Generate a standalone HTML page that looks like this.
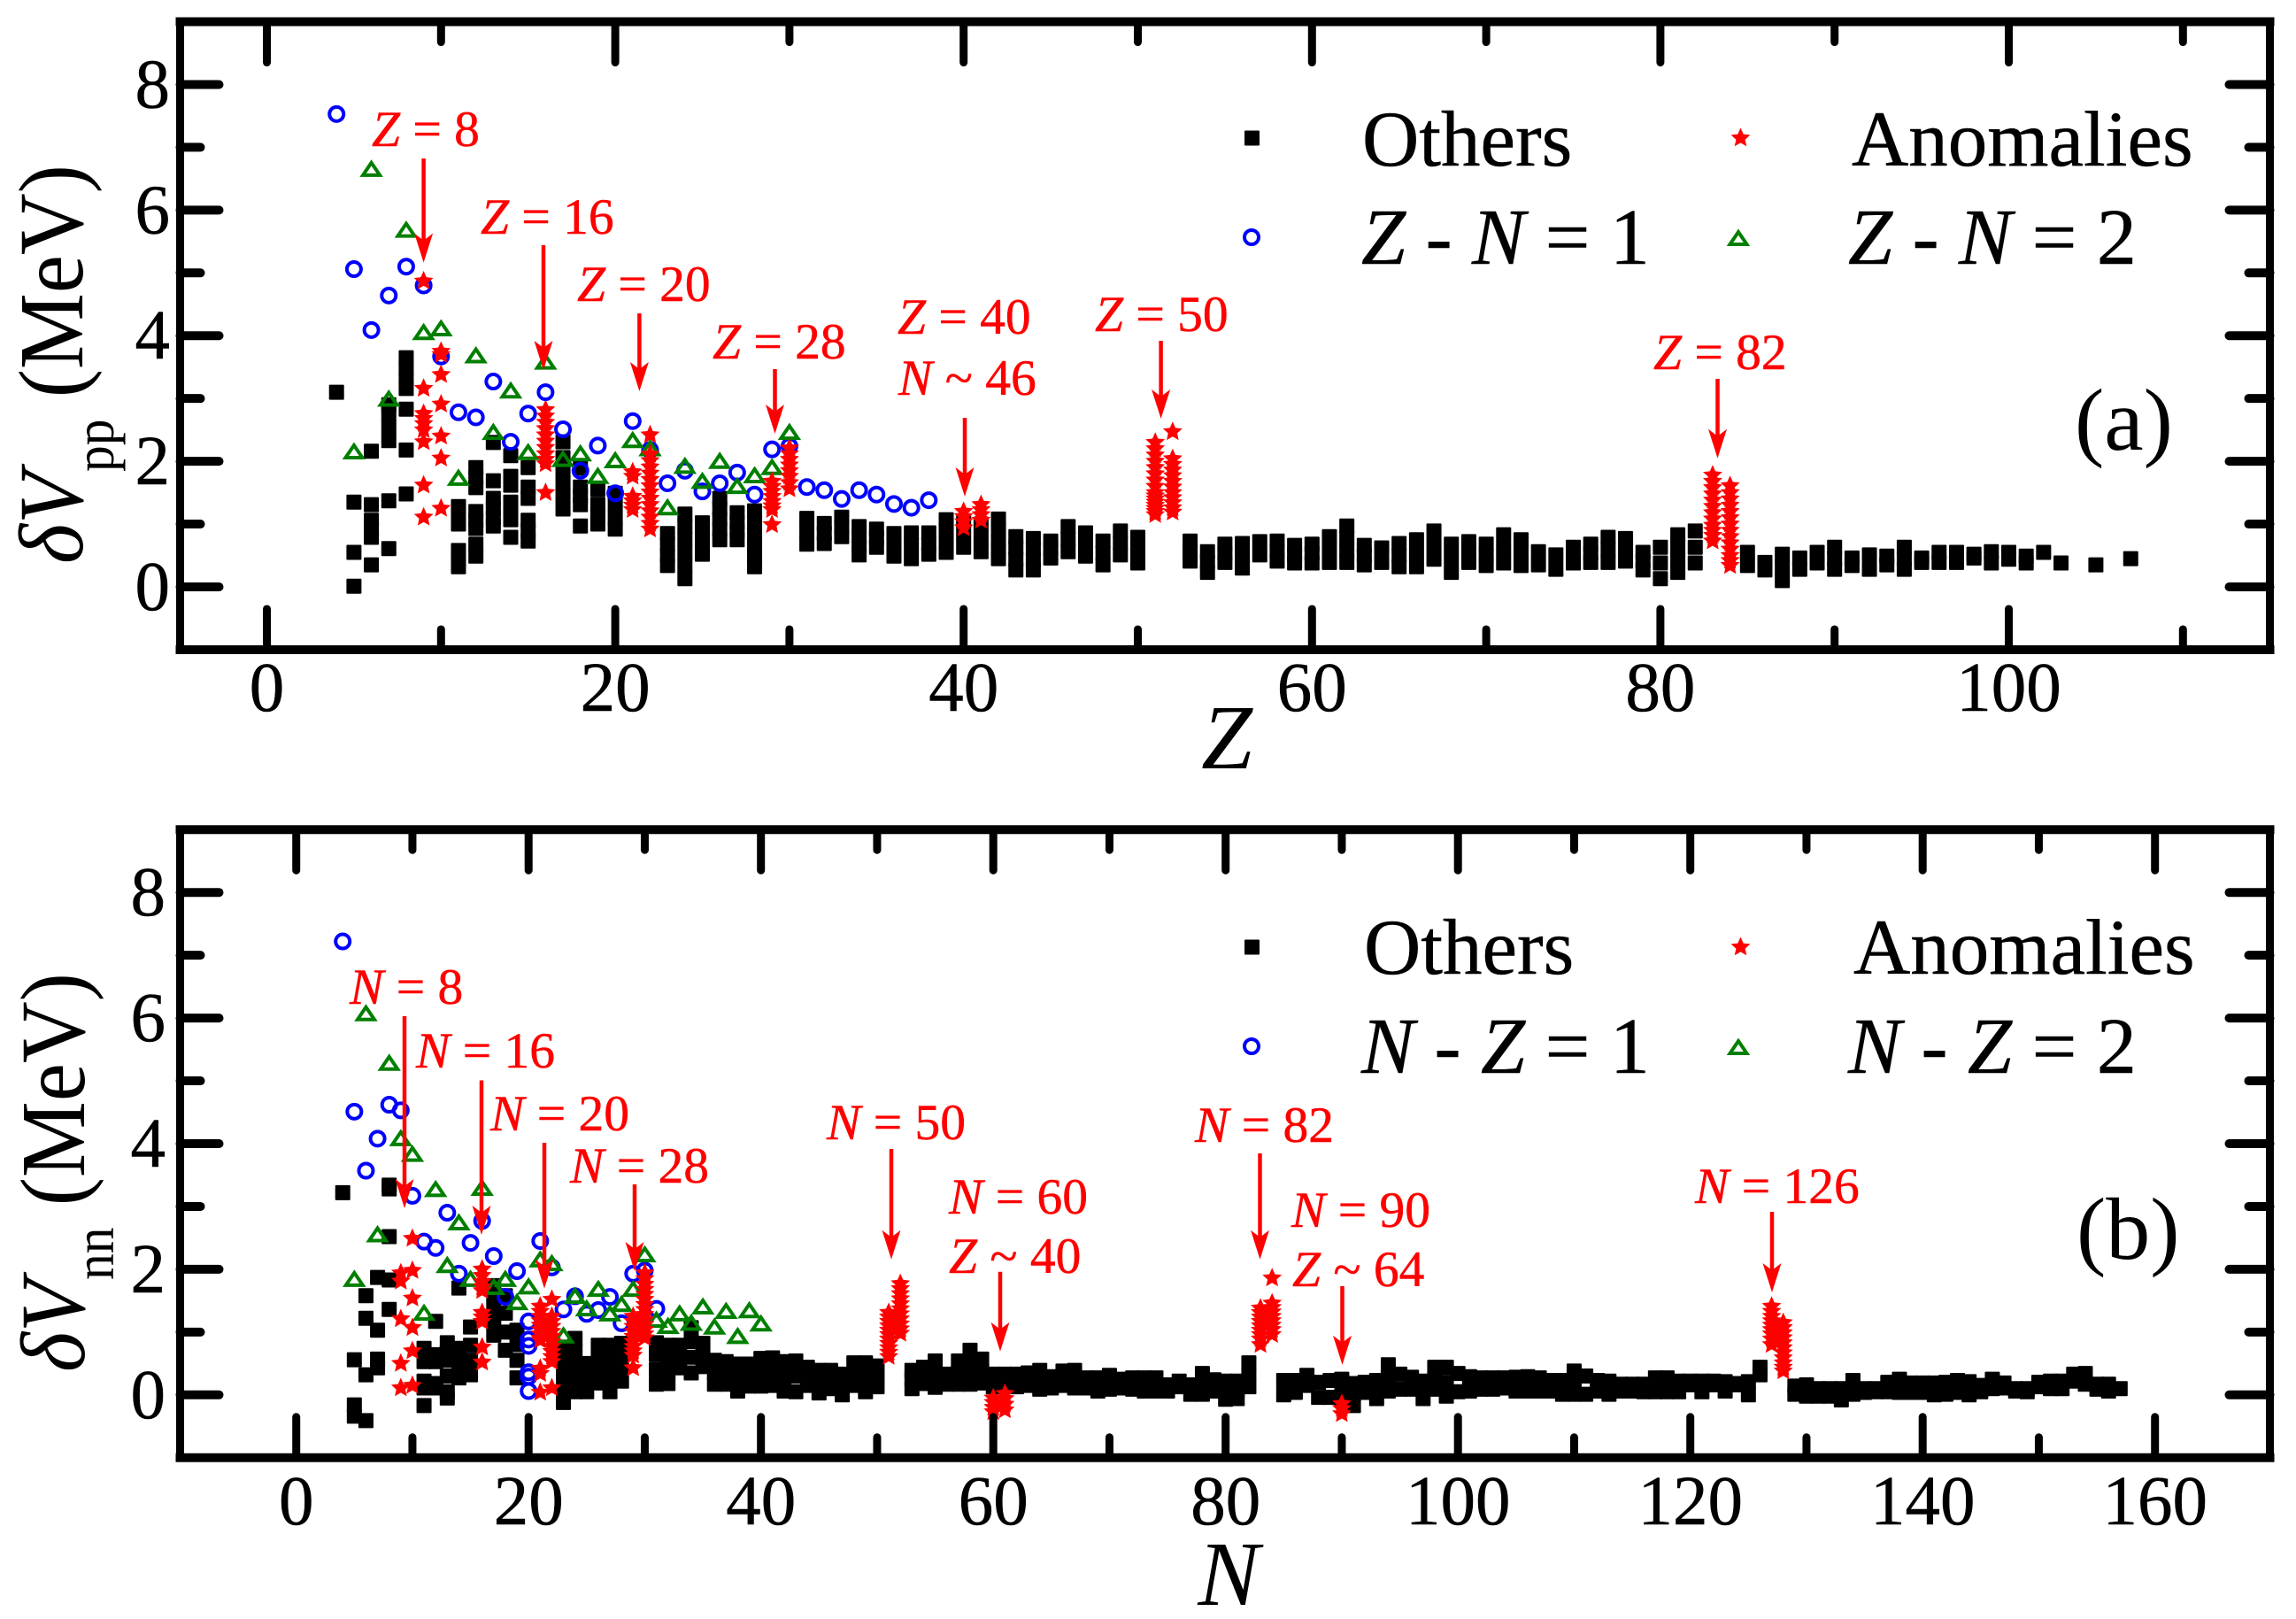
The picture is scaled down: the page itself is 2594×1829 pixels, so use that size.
<!DOCTYPE html>
<html lang="en">
<head>
<meta charset="utf-8">
<title>Proton and neutron interaction differences</title>
<style>
html,body{margin:0;padding:0;background:#fff;}
svg{display:block;}
text{font-family:"Liberation Serif","Times New Roman",serif;}
.i{font-style:italic;}
.ann{fill:#f00;stroke:#f00;stroke-width:.5px;font-size:57.5px;}
.leg{fill:#000;stroke:#000;stroke-width:.5px;font-size:89px;}
.leg2{fill:#000;stroke:#000;stroke-width:.5px;font-size:90px;}
.tick{fill:#000;stroke:#000;stroke-width:.5px;font-size:79px;}
</style>
</head>
<body>
<svg id="chart" xmlns="http://www.w3.org/2000/svg" width="2594" height="1829" viewBox="0 0 2594 1829">
<rect x="0" y="0" width="2594" height="1829" fill="#fff"/>
<g id="panelA"></g>
<g id="panelB"></g>

<g>
<text class="i" x="1386" y="868" font-size="104" text-anchor="middle">Z</text>
<text transform="translate(93,637) rotate(-90) scale(0.93,1)" font-size="104"><tspan class="i">δV</tspan><tspan dy="35" font-size="64">pp</tspan><tspan dy="-35"> (MeV)</tspan></text>
<text x="2344" y="508" font-size="100">(a)</text>
<text class="leg" x="1539" y="187">Others</text>
<text class="leg" x="2092" y="187">Anomalies</text>
<text class="leg2" x="1538" y="298"><tspan class="i">Z</tspan> - <tspan class="i">N</tspan> = 1</text>
<text class="leg2" x="2088" y="298"><tspan class="i">Z</tspan> - <tspan class="i">N</tspan> = 2</text>
<text class="ann" x="420" y="165"><tspan class="i">Z</tspan> = 8</text>
<text class="ann" x="543" y="264"><tspan class="i">Z</tspan> = 16</text>
<text class="ann" x="652" y="340"><tspan class="i">Z</tspan> = 20</text>
<text class="ann" x="805" y="405"><tspan class="i">Z</tspan> = 28</text>
<text class="ann" x="1014" y="377"><tspan class="i">Z</tspan> = 40</text>
<text class="ann" x="1015" y="446"><tspan class="i">N</tspan> ~ 46</text>
<text class="ann" x="1237" y="374"><tspan class="i">Z</tspan> = 50</text>
<text class="ann" x="1868" y="417"><tspan class="i">Z</tspan> = 82</text>
</g>

<g>
<text class="i" x="1388" y="1813" font-size="104" text-anchor="middle">N</text>
<text transform="translate(95,1550) rotate(-90) scale(0.93,1)" font-size="104"><tspan class="i">δV</tspan><tspan dy="33" font-size="64">nn</tspan><tspan dy="-33"> (MeV)</tspan></text>
<text x="2346" y="1422" font-size="100">(b)</text>
<text class="leg" x="1541" y="1100">Others</text>
<text class="leg" x="2094" y="1100">Anomalies</text>
<text class="leg2" x="1538" y="1212"><tspan class="i">N</tspan> - <tspan class="i">Z</tspan> = 1</text>
<text class="leg2" x="2088" y="1212"><tspan class="i">N</tspan> - <tspan class="i">Z</tspan> = 2</text>
<text class="ann" x="395" y="1134"><tspan class="i">N</tspan> = 8</text>
<text class="ann" x="470" y="1206"><tspan class="i">N</tspan> = 16</text>
<text class="ann" x="554" y="1277"><tspan class="i">N</tspan> = 20</text>
<text class="ann" x="644" y="1336"><tspan class="i">N</tspan> = 28</text>
<text class="ann" x="934" y="1287"><tspan class="i">N</tspan> = 50</text>
<text class="ann" x="1072" y="1371"><tspan class="i">N</tspan> = 60</text>
<text class="ann" x="1072" y="1438"><tspan class="i">Z</tspan> ~ 40</text>
<text class="ann" x="1350" y="1290"><tspan class="i">N</tspan> = 82</text>
<text class="ann" x="1459" y="1386"><tspan class="i">N</tspan> = 90</text>
<text class="ann" x="1460" y="1453"><tspan class="i">Z</tspan> ~ 64</text>
<text class="ann" x="1915" y="1359"><tspan class="i">N</tspan> = 126</text>
</g>
<g id="arrows"></g>
</svg>

<script>
/* ---------- Panel (a) data ---------- */
const xTicksA = [0, 20, 40, 60, 80, 100];
const xMinorA = [10, 30, 50, 70, 90, 110];
const xTicksB = [0, 20, 40, 60, 80, 100, 120, 140, 160];
const xMinorB = [10, 30, 50, 70, 90, 110, 130, 150];
const yTicks = [0, 2, 4, 6, 8];
const yMinor = [1, 3, 5, 7];

const othersAZ = [4,5,6,7,8,11,12,13,14,15,17,18,19,20,23,24,25,26,27,28,31,32,33,34,35,36,37,38,39,40,41,42,43,44,45,46,47,48,49,50,53,54,55,56,57,58,59,60,61,62,63,64,65,66,67,68,69,70,71,72,73,74,75,76,77,78,79,80,81,82,85,86,87,88,89,90,91,92,93,94,95,96,97,98,99,100,101,102,103,105,107];
const othersAValues = [
[3.10],[1.35,.55,.01],[2.16,1.31,1.06,.92,.79,.35],[2.90,2.76,2.55,2.33,1.37,.61],[3.65,3.48,3.32,3.16,2.83,2.18,1.48],
[1.28,1.14,1.0,.58,.45,.32],[1.90,1.74,1.58,1.20,1.06,.93,.68,.49],[2.30,1.69,1.41,1.25,1.10,.97],[2.09,1.76,1.62,1.35,1.21,1.07,.79],[1.90,1.59,1.41,1.06,.90,.73],
[2.31,2.06,1.85,1.65,1.45,1.24],[1.89,1.59,1.45,1.31,.97],[1.55,1.31,1.15,1.0],[1.49,1.30,1.10,.92],
[.85,.68,.50,.34],[1.16,.96,.76,.55,.34,.13],[1.02,.85,.68,.52],[1.41,1.25,1.08,.91,.75],[1.18,1.03,.89,.75],[1.21,1.02,.83,.65,.48,.32],
[1.09,.88,.68],[1.01,.85,.69],[1.11,.95,.80],[.96,.80,.65,.51],[.92,.78,.63],[.85,.67,.49],[.86,.66,.45],[.86,.68,.52],[1.07,.88,.70,.55],[1.05,.84,.63],[1.0,.78,.56],[1.08,.90,.72,.58,.45],[.80,.62,.44,.27],[.77,.60,.43,.27],[.73,.60,.46],[.96,.76,.56],[.86,.68,.49],[.73,.54,.35],[.89,.70,.51],[.79,.58,.38],
[.73,.57,.41],[.56,.40,.23],[.68,.53,.39],[.69,.50,.30],[.72,.51],[.73,.57,.41],[.66,.52,.38],[.68,.53,.38],[.80,.60,.39],[.97,.78,.58,.39],[.66,.50,.35],[.62,.39],[.69,.50,.32],[.75,.53,.32],[.89,.66,.44],[.68,.46,.23],[.72,.55,.39],[.68,.51,.34],[.83,.60,.38],[.75,.54,.34],[.56,.35],[.51,.28],[.63,.50,.38],[.68,.53,.39],[.79,.59,.39],[.77,.59,.41],[.55,.41,.27],[.63,.38,.13],[.83,.63,.43,.23],[.89,.63,.38],
[.55,.34],[.39,.27],[.52,.31,.10],[.46,.28],[.55,.38],[.63,.45,.28],[.46,.34],[.51,.28],[.49,.35],[.63,.45,.28],[.46,.39],[.55,.39],[.55,.39],[.52,.46],[.56,.38],[.55,.44],[.49,.38],[.55],[.38],[.35],[.45]
];

const diff1AZ = [4,5,6,7,8,9,10,11,12,13,14,15,16,17,18,19,20,21,22,23,24,25,26,27,28,29,30,31,32,33,34,35,36,37,38];
const diff1AValues = [7.53,5.06,4.09,4.64,5.10,4.80,3.67,2.78,2.70,3.27,2.31,2.76,3.10,2.51,1.85,2.25,1.49,2.64,2.18,1.65,1.85,1.52,1.65,1.82,1.47,2.19,2.24,1.59,1.54,1.40,1.54,1.47,1.32,1.26,1.38];

const diff2AZ = [5,6,7,8,9,10,11,12,13,14,15,16,17,18,19,20,21,22,23,24,25,26,27,28,29,30];
const diff2AValues = [2.17,6.67,3.01,5.70,4.07,4.13,1.75,3.70,2.48,3.14,2.16,3.60,2.05,2.14,1.78,2.03,2.35,2.22,1.28,1.94,1.70,2.02,1.62,1.79,1.92,2.48];

const anomalyAZ = [9,10,16,21,22,29,30,40,41,51,52,83,84];
const anomalyAValues = [
[4.87,3.16,2.76,2.68,2.6,2.5,2.31,1.62,1.11],
[3.75,3.7,3.38,2.91,2.40,2.05,1.25],
[2.82,2.72,2.62,2.52,2.42,2.32,2.22,2.12,2.03,1.96,1.50],
[1.83,1.76,1.44,1.37,1.30,1.23],
[2.42,2.11,2.01,1.91,1.81,1.71,1.61,1.51,1.41,1.31,1.21,1.11,1.01,.92],
[1.68,1.60,1.52,1.44,1.36,1.29,1.23,.99],
[2.21,2.12,2.03,1.94,1.85,1.76,1.66,1.56],
[1.2,1.12,1.04,.94],
[1.31,1.23,1.15,1.06],
[2.30,2.2,2.1,2.0,1.9,1.8,1.7,1.6,1.5,1.45,1.4,1.35,1.3,1.25,1.2,1.15],
[2.47,2.04,1.95,1.86,1.77,1.68,1.59,1.5,1.42,1.34,1.26,1.19],
[1.78,1.68,1.58,1.48,1.38,1.28,1.18,1.08,.98,.9,.82,.73],
[1.61,1.5,1.4,1.3,1.2,1.1,1.0,.9,.8,.7,.6,.5,.42,.34]
];

/* ---------- Panel (b) data ---------- */
const othersBN = [4,5,6,7,8,11,12,13,14,15,17,18,19,23,24,25,26,27,28,31,32,33,34,35,36,37,38,39,40,41,42,43,44,45,46,47,48,49,50,53,54,55,56,57,58,59,60,61,62,63,64,65,66,67,68,69,70,71,72,73,74,75,76,77,78,79,80,81,82,85,86,87,88,89,90,91,92,93,94,95,96,97,98,99,100,101,102,103,104,105,106,107,108,109,110,111,112,113,114,115,116,117,118,119,120,121,122,123,124,125,126,129,130,131,132,133,134,135,136,137,138,139,140,141,142,143,144,145,146,147,148,149,150,151,152,153,154,155,156,157];
const othersBValues = [
[3.22],[.56,-.16,-.34],[1.58,1.22,.32,-.41],[1.87,1.03,.57,.43],[3.34,3.28,2.52,1.83,1.36],
[.74,.53,.22,.11,-.17],[1.17,.64,.53,.18,.11],[.83,.68,.55,.30,.05,-.05],[1.70,.74,.55,.40,.27],[1.08,.79,.55,.32],
[1.74,1.55,1.35,1.15,.95],[1.58,1.30,1.0,.71],[1.03,.8,.55,.27],
[.76,.55,.33,.10,-.12],[.90,.70,.48,.25,.05],[.50,.35,.20,.05],[.79,.60,.40,.19],[.79,.60,.40,.22,.05],[.82,.64,.42,.22],
[.83,.64,.40,.17],[.79,.60,.38,.18],[.79,.60,.43],[1.07,.85,.60,.35],[.82,.62,.45],[.55,.35,.17],[.53,.35,.17],[.49,.27,.06],[.49,.30,.14],[.58,.36,.14],[.59,.37,.15],[.53,.30,.06],[.54,.30,.05],[.44,.30,.15],[.39,.20,.03],[.39,.25,.10],[.33,.16,.0],[.51,.33,.15],[.51,.28,.05],[.46,.30,.13],
[.39,.25,.10],[.44,.30,.18],[.54,.33,.12],[.33,.17],[.54,.35,.17],[.71,.54,.36,.17],[.57,.38,.19],[.33,.13],[.33,.13],[.33,.13],[.35,.15],[.39,.24,.09],[.29,.11],[.38,.26,.15],[.39,.25,.11],[.27,.11],[.27,.06],[.31,.09],[.25,.11],[.27,.09],[.27,.06],[.27,.06],[.16,.06],[.22,.13],[.16,.01],[.34,.17,.01],[.24,.06],[.22,.07,-.07],[.22,.08,-.06],[.51,.32,.13],
[.23,.0],[.23,.04],[.31,.15],[.20,-.04],[.23,-.04],[.25,.10,-.05],[.18,.0,-.17],[.20,.04],[.23,.08,-.06],[.48,.27,.06],[.33,.09],[.28,.09],[.22,.08,-.06],[.44,.27,.09],[.44,.20,-.02],[.34,.05],[.29,.06],[.27,.09],[.27,.09],[.27,.11],[.28,.06],[.29,.06],[.27,.06],
[.23,.06],[.23,.01],[.38,.20,.01],[.30,.01],[.23,.06],[.22,.01],[.17,.06],[.17,.06],[.17,.05],[.27,.05],[.27,.05],[.22,.05],[.22,.16],[.22,.05],[.22,.16],[.21,.06],[.18,.16],[.21,.0],[.44,.32],
[.14,.01],[.16,-.02],[.10,-.02],[.10,-.02],[.10,-.08],[.23,.01],[.10,.04],[.10,.05],[.20,.05],[.25,.04],[.19,.04],[.19,.04],[.19,.0],[.20,.01],[.23,.04],[.21,.0],[.15,.05],[.25,.10],[.19,.11],[.10,.06],[.10,.05],[.20,.13],[.22,.10],[.22,.10],[.33,.22],[.34,.17],[.17,.09],[.17,.06],[.10]
];

const diff1BN = [4,5,6,7,8,9,10,11,12,13,14,15,16,17,18,19,20,20,20,20,20,20,21,22,23,24,25,26,27,28,29,30,31];
const diff1BValues = [7.22,4.51,3.57,4.08,4.62,4.53,3.17,2.44,2.34,2.90,1.93,2.42,2.77,2.21,1.56,1.97,1.17,.88,.78,.36,.29,.06,2.45,2.03,1.36,1.57,1.29,1.35,1.56,1.14,1.93,1.98,1.37];

const diff2BN = [5,6,7,8,9,10,11,12,13,14,15,16,17,18,19,20,21,22,23,24,25,26,27,28,29,30,31,32,33,34,35,36,37,38,39,40];
const diff2BValues = [1.86,6.09,2.57,5.30,4.10,3.85,1.32,3.29,2.08,2.76,1.86,3.31,1.73,1.86,1.49,1.74,2.17,2.11,.96,1.59,1.39,1.70,1.31,1.46,1.70,2.25,1.21,1.11,1.31,1.16,1.42,1.10,1.35,.95,1.36,1.15];

const anomalyBN = [9,10,16,21,22,29,30,51,52,60,61,83,84,90,127,128];
const anomalyBValues = [
[1.94,1.81,1.21,.50,.11],
[2.49,1.98,1.54,1.07,.70,.15],
[2.0,1.9,1.8,1.72,1.66,1.31,1.24,1.17,.76,.52],
[1.41,1.33,1.25,1.18,1.11,1.04,.97,.90,.87,.42,.34,.04],
[1.52,1.25,1.17,1.09,1.01,.93,.85,.77,.69,.61,.53,.11],
[1.25,1.17,1.09,1.01,.93,.85,.77,.70,.63,.43],
[1.94,1.85,1.76,1.68,1.6,1.52,1.44,1.36,1.28,1.2,1.12,1.04,.97,.91],
[1.31,1.24,1.17,1.10,1.03,.96,.89,.82,.75,.68,.61],
[1.77,1.69,1.61,1.53,1.45,1.37,1.29,1.21,1.13,1.05,.98],
[-.05,-.12,-.2,-.27],
[.02,-.06,-.15,-.24],
[1.38,1.31,1.24,1.17,1.10,1.03,.96,.89,.80],
[1.86,1.46,1.39,1.32,1.25,1.18,1.11,1.04,.96],
[-.14,-.22,-.30],
[1.41,1.33,1.25,1.18,1.11,1.04,.97,.89,.80],
[1.15,1.07,.99,.91,.83,.75,.67,.59,.51,.44,.38]
];

/* ---------- Axis functions ---------- */
function xAxisA(z){ return 301.5 + 19.68 * z; }
function xAxisB(n){ return 334.7 + 13.125 * n; }
function yAxisA(v){ return 663 - 70.94 * v; }
function yAxisB(v){ return 1575.8 - 70.95 * v; }

const NS = 'http://www.w3.org/2000/svg';
function mk(tag, parent){
  const el = document.createElementNS(NS, tag);
  parent.appendChild(el);
  return el;
}
function drawSquare(parent, cx, cy){
  const el = mk('rect', parent);
  
  
  el.setAttribute('x', cx - 8.5);
  el.setAttribute('y', cy - 8.5);
  el.setAttribute('width', 17);
  el.setAttribute('height', 17);
  el.setAttribute('rx', 1);
  el.setAttribute('fill', '#000');
}
function drawCircle(parent, cx, cy){
  const el = mk('circle', parent);
  
  
  el.setAttribute('cx', cx);
  el.setAttribute('cy', cy);
  el.setAttribute('r', 8);
  el.setAttribute('fill', 'none');
  el.setAttribute('stroke', '#0000ff');
  el.setAttribute('stroke-width', 4);
}
function drawTriangle(parent, cx, cy){
  const el = mk('polygon', parent);
  
  
  el.setAttribute('points', cx + ',' + (cy - 6) + ' ' + (cx + 9.5) + ',' + (cy + 8) + ' ' + (cx - 9.5) + ',' + (cy + 8));
  el.setAttribute('fill', 'none');
  el.setAttribute('stroke', '#007f00');
  el.setAttribute('stroke-width', 4);
}
function drawStar(parent, cx, cy){
  const el = mk('polygon', parent);
  
  
  const pts = [];
  for (let i = 0; i < 10; i++) {
    const r = i % 2 === 0 ? 11.5 : 5.4;
    const a = -Math.PI / 2 + i * Math.PI / 5;
    pts.push((cx + r * Math.cos(a)).toFixed(1) + ',' + (cy + r * Math.sin(a)).toFixed(1));
  }
  el.setAttribute('points', pts.join(' '));
  el.setAttribute('fill', '#ff0000');
}
function drawLine(parent, x1, y1, x2, y2, w, name, cap){
  const el = mk('line', parent);
  
  
  el.setAttribute('x1', x1);
  el.setAttribute('y1', y1);
  el.setAttribute('x2', x2);
  el.setAttribute('y2', y2);
  el.setAttribute('stroke', '#000');
  el.setAttribute('stroke-width', w);
  el.setAttribute('stroke-linecap', cap);
}
function drawTickLabel(parent, x, y, s, anchor){
  const el = mk('text', parent);
  
  
  el.setAttribute('class', 'tick');
  el.setAttribute('x', x);
  el.setAttribute('y', y);
  el.setAttribute('text-anchor', anchor);
  el.textContent = s;
}

function drawPanel(parent, xf, yf, cfg){
  const L = 203.5, R = 2564.5, T = yf(9), B = yf(-1);
  const series = mk('g', parent);
  
  

  cfg.othersX.forEach(function(x, i){
    cfg.othersV[i].forEach(function(v){ drawSquare(series, xf(x), yf(v)); });
  });
  cfg.d1X.forEach(function(x, i){ drawCircle(series, xf(x), yf(cfg.d1V[i])); });
  cfg.d2X.forEach(function(x, i){ drawTriangle(series, xf(x), yf(cfg.d2V[i])); });
  cfg.anX.forEach(function(x, i){
    cfg.anV[i].forEach(function(v){ drawStar(series, xf(x), yf(v)); });
  });

  /* frame */
  drawLine(parent, L, T, R, T, 10, 'frame-top', 'square');
  drawLine(parent, L, B, R, B, 10, 'frame-bottom', 'square');
  drawLine(parent, L, T, L, B, 9, 'frame-left', 'square');
  drawLine(parent, R, T, R, B, 9, 'frame-right', 'square');

  /* ticks */
  cfg.xMajor.forEach(function(t){
    drawLine(parent, xf(t), B, xf(t), B - 46, 9, 'x-tick-major', 'round');
    drawLine(parent, xf(t), T, xf(t), T + 46, 9, 'x-tick-major-top', 'round');
    drawTickLabel(parent, xf(t), cfg.xLabelY, String(t), 'middle');
  });
  cfg.xMinor.forEach(function(t){
    drawLine(parent, xf(t), B, xf(t), B - 23, 9, 'x-tick-minor', 'round');
    drawLine(parent, xf(t), T, xf(t), T + 23, 9, 'x-tick-minor-top', 'round');
  });
  yTicks.forEach(function(t){
    drawLine(parent, L, yf(t), L + 44, yf(t), 10, 'y-tick-major', 'round');
    drawLine(parent, R, yf(t), R - 46, yf(t), 10, 'y-tick-major-right', 'round');
    drawTickLabel(parent, cfg.yLabelX, yf(t) + 26, String(t), 'end');
  });
  yMinor.forEach(function(t){
    drawLine(parent, L, yf(t), L + 23, yf(t), 10, 'y-tick-minor', 'round');
    drawLine(parent, R, yf(t), R - 24, yf(t), 10, 'y-tick-minor-right', 'round');
  });

  /* legend markers */
  const lg = mk('g', parent);
  
  
  drawSquare(lg, 1414.5, cfg.legY1);
  drawStar(lg, 1966.5, cfg.legY1);
  drawCircle(lg, 1414, cfg.legY2);
  drawTriangle(lg, 1964, cfg.legY2);
}

drawPanel(document.getElementById('panelA'), xAxisA, yAxisA, {
  othersX: othersAZ, othersV: othersAValues, d1X: diff1AZ, d1V: diff1AValues,
  d2X: diff2AZ, d2V: diff2AValues, anX: anomalyAZ, anV: anomalyAValues,
  xMajor: xTicksA, xMinor: xMinorA, xLabelY: 803, yLabelX: 192, legY1: 156, legY2: 268
});
drawPanel(document.getElementById('panelB'), xAxisB, yAxisB, {
  othersX: othersBN, othersV: othersBValues, d1X: diff1BN, d1V: diff1BValues,
  d2X: diff2BN, d2V: diff2BValues, anX: anomalyBN, anV: anomalyBValues,
  xMajor: xTicksB, xMinor: xMinorB, xLabelY: 1722, yLabelX: 187, legY1: 1070, legY2: 1182
});

/* annotation arrows: x, top y, tip y */
const arrowSpecs = [
  [478.6,179,296.6],[614,277,418],[722.4,354,442],[875.5,417,490],[1090,472,561],[1311.6,385,473],[1940.5,428,517.7],
  [457,1148,1365],[544,1220.5,1395],[615,1291,1455.6],[717,1338,1436],[1007,1298,1422.7],[1130,1436.7,1526.7],[1423.5,1303,1422.7],[1516.5,1453,1541.7],[2002,1369,1460]
];
const arrowLayer = document.getElementById('arrows');
arrowSpecs.forEach(function(a){
  const g = mk('g', arrowLayer);
  
  
  const ln = mk('line', g);
  
  
  ln.setAttribute('x1', a[0]);
  ln.setAttribute('y1', a[1]);
  ln.setAttribute('x2', a[0]);
  ln.setAttribute('y2', a[2] - 20);
  ln.setAttribute('stroke', '#ff0000');
  ln.setAttribute('stroke-width', 4.5);
  const hd = mk('polygon', g);
  
  
  hd.setAttribute('points', a[0] + ',' + a[2] + ' ' + (a[0] - 10.5) + ',' + (a[2] - 33) + ' ' + a[0] + ',' + (a[2] - 25) + ' ' + (a[0] + 10.5) + ',' + (a[2] - 33));
  hd.setAttribute('fill', '#ff0000');
});
</script>
</body>
</html>
